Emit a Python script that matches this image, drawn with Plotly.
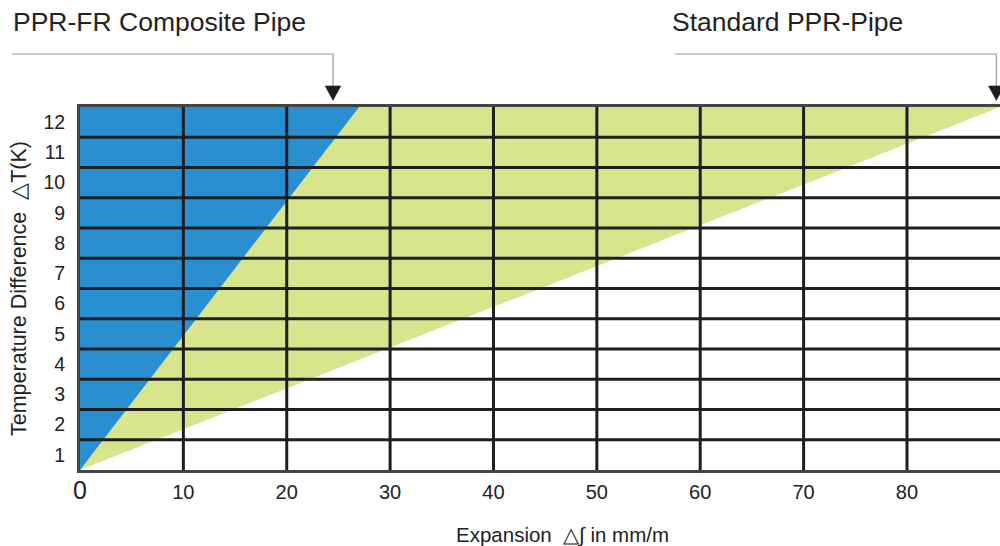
import plotly.graph_objects as go

# ---- data ----
temp_diff = [0, 12]                 # ΔT (K)
standard_expansion = [0, 89]        # Standard PPR-Pipe, mm/m
composite_expansion = [0, 27]       # PPR-FR Composite Pipe, mm/m
x_ticks = [0, 10, 20, 30, 40, 50, 60, 70, 80]
y_labels = [1, 2, 3, 4, 5, 6, 7, 8, 9, 10, 11, 12]
x_max = 89
y_max = 12

BLUE = "#2a8fd1"
GREEN = "#d9e58c"
GRID = "#1e1e1e"
TXT = "#222222"
FONT = "Liberation Sans, Arial, sans-serif"

fig = go.Figure()

# green region (standard pipe)
fig.add_trace(go.Scatter(
    x=standard_expansion + [0], y=temp_diff + [y_max],
    fill="toself", fillcolor=GREEN, mode="lines", line=dict(width=0),
    hoverinfo="skip", showlegend=False))
# blue region (composite pipe)
fig.add_trace(go.Scatter(
    x=composite_expansion + [0], y=temp_diff + [y_max],
    fill="toself", fillcolor=BLUE, mode="lines", line=dict(width=0),
    hoverinfo="skip", showlegend=False))

# grid lines drawn above the fills
shapes = []
for xv in x_ticks[1:]:
    shapes.append(dict(type="line", xref="x", yref="y", x0=xv, x1=xv, y0=0, y1=y_max,
                       line=dict(color=GRID, width=3), layer="above"))
for yv in range(1, y_max):
    shapes.append(dict(type="line", xref="x", yref="y", x0=0, x1=x_max, y0=yv, y1=yv,
                       line=dict(color=GRID, width=3), layer="above"))

# callout leader lines + arrowheads (paper coords)
def callout(x_start, x_end):
    y_line = 1.146
    y_tip = 1.018
    y_head = 1.058
    s = [dict(type="path", xref="paper", yref="paper",
              path=f"M {x_start},{y_line} L {x_end},{y_line} L {x_end},{y_head}",
              line=dict(color="#9a9a9a", width=1.2), layer="above"),
         dict(type="path", xref="paper", yref="paper",
              path=f"M {x_end-0.0085},{y_head} L {x_end+0.0085},{y_head} L {x_end},{y_tip} Z",
              fillcolor="#1e1e1e", line=dict(color="#1e1e1e", width=0.5), layer="above")]
    return s

shapes += callout(-0.074, 0.275)
shapes += callout(0.647, 0.996)

fig.update_layout(
    width=1000, height=546,
    margin=dict(l=80, r=0, t=107, b=76),
    paper_bgcolor="white", plot_bgcolor="white",
    font=dict(family=FONT, color=TXT, size=19),
    shapes=shapes,
    xaxis=dict(
        range=[0, x_max], tickmode="array", tickvals=x_ticks,
        ticktext=['<span style="font-size:25px">0</span>'] + [str(v) for v in x_ticks[1:]],
        showgrid=False, zeroline=False, showline=True, linecolor="#444444",
        linewidth=3, mirror=True, ticks="", ticklabelstandoff=2,
        tickfont=dict(size=20, color=TXT),
    ),
    yaxis=dict(
        range=[0, y_max], tickmode="array", tickvals=[v - 0.5 for v in y_labels],
        ticktext=[str(v) for v in y_labels],
        showgrid=False, zeroline=False, showline=True, linecolor="#444444",
        linewidth=3, ticks="", ticklabelstandoff=8,
        tickfont=dict(size=19.5, color=TXT),
        title=dict(text="Temperature Difference  \u25B3T(K)", font=dict(size=21.5, color=TXT), standoff=11),
    ),
    annotations=[
        dict(text="PPR-FR Composite Pipe", xref="paper", yref="paper", x=-0.075, y=1.234,
             xanchor="left", yanchor="middle", showarrow=False, font=dict(size=26.5, color=TXT)),
        dict(text="Standard PPR-Pipe", xref="paper", yref="paper", x=0.641, y=1.234,
             xanchor="left", yanchor="middle", showarrow=False, font=dict(size=26.5, color=TXT)),
        dict(text="Expansion  \u25B3\u222B in mm/m", xref="paper", yref="paper", x=0.524, y=-0.179,
             xanchor="center", yanchor="middle", showarrow=False, font=dict(size=20.5, color=TXT)),
    ],
)

fig.write_html("out.html", config={"displayModeBar": False},
               post_script="document.body.style.margin='0px';")
